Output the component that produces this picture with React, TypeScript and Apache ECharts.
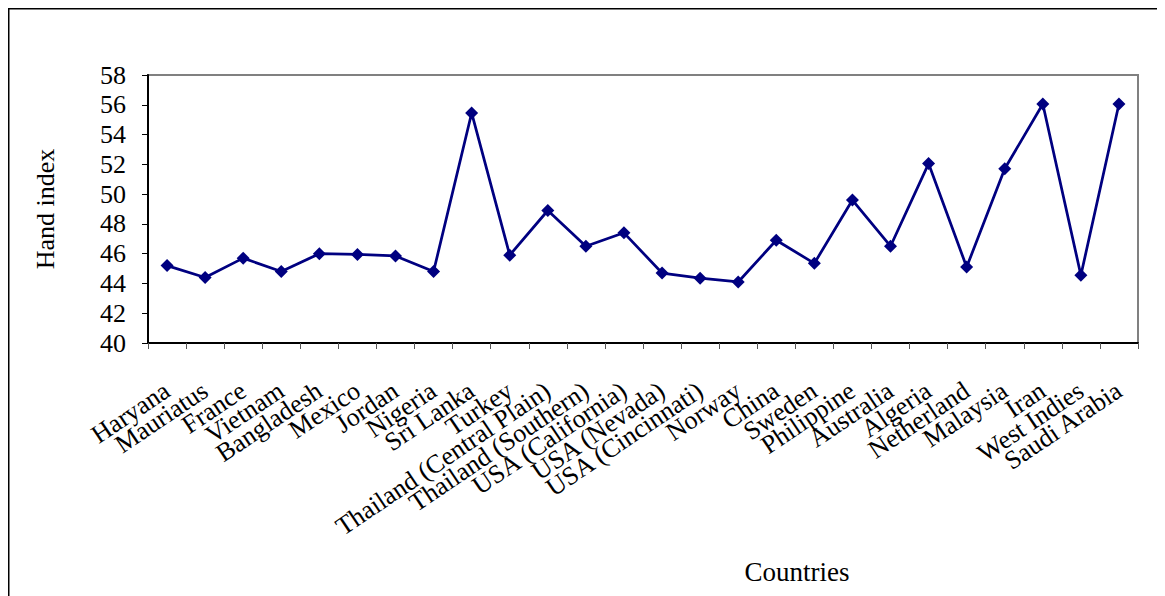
import React, { useEffect, useRef } from "react";
import * as echarts from "echarts";

const categories = [
  "Haryana", "Mauriatus", "France", "Vietnam", "Bangladesh", "Mexico", "Jordan",
  "Nigeria", "Sri Lanka", "Turkey", "Thailand (Central Plain)", "Thailand (Southern)",
  "USA (California)", "USA (Nevada)", "USA (Cincinnati)", "Norway", "China", "Sweden",
  "Philippine", "Australia", "Algeria", "Netherland", "Malaysia", "Iran", "West Indies",
  "Saudi Arabia",
];
const handIndex = [
  45.2, 44.4, 45.7, 44.8, 46.0, 45.95, 45.85, 44.8, 55.45, 45.9, 48.9, 46.5,
  47.4, 44.7, 44.35, 44.1, 46.9, 45.35, 49.6, 46.5, 52.05, 45.1, 51.7, 56.05,
  44.55, 56.05,
];
const yMin = 40;
const yMax = 58;
const yStep = 2;
const yTitle = "Hand index";
const xTitle = "Countries";

export default function App() {
  const ref = useRef<HTMLDivElement>(null);
  useEffect(() => {
    if (!ref.current) return;
    const chart = echarts.init(ref.current, undefined, { renderer: "svg" });
    const font = "'Liberation Serif', 'Times New Roman', serif";
    chart.setOption({
      animation: false,
      backgroundColor: "#ffffff",
      textStyle: { fontFamily: font },
      grid: {
        left: 140,
        right: 27,
        top: 67,
        bottom: 253,
        show: true,
        borderColor: "#808080",
        borderWidth: 2,
        backgroundColor: "#ffffff",
      },
      graphic: [
        { type: "line", shape: { x1: 0, y1: 0, x2: 0, y2: 600 }, style: { stroke: "#000", lineWidth: 3 } },
        { type: "line", shape: { x1: 0, y1: 0, x2: 1200, y2: 0 }, style: { stroke: "#000", lineWidth: 3 } },
        {
          type: "text",
          x: 789,
          y: 564,
          style: {
            text: xTitle,
            font: `27px ${font}`,
            fill: "#000",
            textAlign: "center",
            textVerticalAlign: "middle",
          },
        },
      ],
      xAxis: {
        type: "category",
        data: categories,
        boundaryGap: true,
        axisLine: { show: true, lineStyle: { color: "#000", width: 2 } },
        axisTick: { show: true, length: 6, interval: 0, lineStyle: { color: "#555", width: 1 } },
        axisLabel: {
          interval: 0,
          rotate: 34,
          margin: 45,
          color: "#000",
          fontSize: 26,
          fontFamily: font,
        },
        splitLine: { show: false },
      },
      yAxis: {
        type: "value",
        min: yMin,
        max: yMax,
        interval: yStep,
        name: yTitle,
        nameLocation: "middle",
        nameGap: 90,
        nameRotate: 90,
        nameTextStyle: { color: "#000", fontSize: 26, fontFamily: font },
        axisLine: { show: true, lineStyle: { color: "#000", width: 2 } },
        axisTick: { show: true, length: 6, lineStyle: { color: "#000", width: 1 } },
        axisLabel: { margin: 22, color: "#000", fontSize: 26, fontFamily: font },
        splitLine: { show: false },
      },
      series: [
        {
          type: "line",
          data: handIndex,
          symbol: "diamond",
          symbolSize: 13,
          itemStyle: { color: "#000080" },
          lineStyle: { color: "#000080", width: 2.75 },
        },
      ],
    });
    return () => chart.dispose();
  }, []);
  return <div ref={ref} style={{ width: 1157, height: 588 }} />;
}
